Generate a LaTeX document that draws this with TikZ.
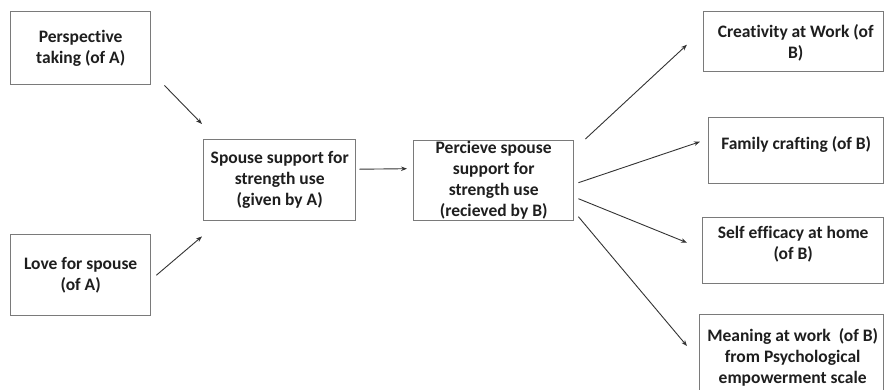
\documentclass[tikz,border=0pt]{standalone}
\usepackage{fontspec}
\setmainfont{Carlito}[Ligatures={NoCommon}]
\usetikzlibrary{arrows.meta,calc}
\definecolor{boxline}{HTML}{7A7A7A}
\definecolor{ink}{HTML}{1E1E1E}
\definecolor{arrowink}{HTML}{333333}
\begin{document}
\begin{tikzpicture}[x=1pt,y=-1pt,
  box/.style={draw=boxline,line width=1.4pt,fill=white,inner sep=0pt,
    anchor=north west,align=center,text=ink,
    font=\bfseries\fontsize{17.5}{21}\selectfont},
  lbl/.style={inner sep=0pt,align=center,text=ink,
    font=\bfseries\fontsize{17.5}{21}\selectfont},
  link/.style={draw=arrowink,line width=0.9pt,
    -{Stealth[length=6pt,width=4.5pt]}}]
\useasboundingbox (0,0) rectangle (884,389);
\clip (0,0) rectangle (884,389);

% antecedents of A
\node[box,minimum width=140pt,minimum height=73pt] (pt) at (10,11)
  {Perspective\\taking (of A)};
\node[box,minimum width=140pt,minimum height=81pt] (love) at (10,234)
  {Love for spouse\\(of A)};

% support given and perceived
\node[box,minimum width=152pt,minimum height=81pt] (give) at (203,139)
  {Spouse support for\\strength use\\(given by A)};
\node[box,minimum width=160pt,minimum height=80pt] (recv) at (413,140)
  {Percieve spouse\\support for\\strength use\\(recieved by B)};

% outcomes for B (text set near the top of each box)
\node[box,minimum width=180pt,minimum height=60pt] (crea) at (703,11) {};
\node[lbl,anchor=north] (creaT) at ($(crea.north)+(2,13)$) {Creativity at Work (of\\B)};
\node[box,minimum width=175pt,minimum height=66pt] (fam) at (708,117) {};
\node[lbl,anchor=north] (famT) at ($(fam.north)+(0,19)$) {Family crafting (of B)};
\node[box,minimum width=181pt,minimum height=66pt] (selfe) at (702,217) {};
\node[lbl,anchor=north] (selfeT) at ($(selfe.north)+(0,9)$) {Self efficacy at home\\(of B)};
\node[box,minimum width=184pt,minimum height=90pt] (mean) at (699,314) {};
\node[lbl,anchor=north] (meanT) at ($(mean.north)+(1,14)$) {Meaning at work\ \ (of B)\\from Psychological\\empowerment scale};

% connectors
\draw[link] ($(pt.south east)+(13,0)$) -- ($(give.north west)+(-1,-15)$);
\draw[link] ($(love.east)+(5,0)$) -- ($(give.south west)+(-1,15)$);
\draw[link] ($(give.east)+(3,-11)$) -- ($(recv.west)+(-6,-12)$);
\draw[link] ($(recv.north east)+(11,-1)$) -- ($(crea.west)+(-16,3)$);
\draw[link] ($(recv.east)+(4,2)$) -- ($(fam.west)+(-8,-9)$);
\draw[link] ($(recv.east)+(4,18)$) -- ($(selfe.west)+(-15,-8)$);
\draw[link] ($(recv.east)+(4,36)$) -- ($(mean.north west)+(-12,32)$);
\end{tikzpicture}
\end{document}
